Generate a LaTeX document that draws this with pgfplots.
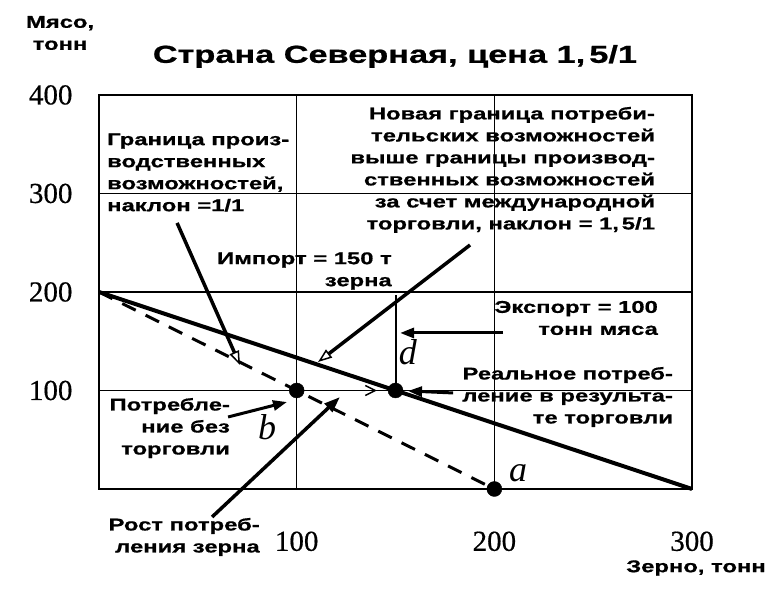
\documentclass[border=0pt]{standalone}
\usepackage{pgfplots}
\pgfplotsset{compat=1.18}
\usepackage{fontspec}
\usetikzlibrary{arrows.meta}
\newfontfamily\annfont[FakeStretch=1.4, BoldFeatures={FakeBold=0.8}]{Liberation Sans}
\newfontfamily\tickfont[FakeBold=0.5]{Liberation Serif}
\newfontfamily\letfont{Liberation Serif}
\tikzset{
  ann/.style={font=\annfont\bfseries\fontsize{17}{22}\selectfont, inner sep=0pt},
  lett/.style={font=\letfont\itshape\fontsize{36}{36}\selectfont, inner sep=0pt},
}
\begin{document}
\begin{tikzpicture}
\begin{axis}[
  width=593pt, height=394pt, scale only axis,
  xmin=0, xmax=300, ymin=0, ymax=400,
  xtick={100,200,300}, ytick={100,200,300,400},
  grid=major, major grid style={line width=1.2pt, black},
  axis line style={line width=2.5pt},
  tick style={draw=none},
  clip=false,
  /pgf/number format/assume math mode=true,
  ticklabel style={font=\tickfont\fontsize{29}{29}\selectfont},
  xticklabel style={yshift=-39pt},
  yticklabel style={xshift=-23pt},
]
% consumption possibility frontier (slope 1.5/1)
\addplot[line width=4pt, black] coordinates {(0,200) (300,0)};
% production possibility frontier (slope 1/1)
\addplot[line width=3pt, black, dash pattern=on 15pt off 11pt] coordinates {(0,200) (200,0)};
% vertical segment d
\addplot[line width=2pt, black] coordinates {(150,100) (150,197)};
% points
\addplot[only marks, mark=*, mark size=7.5pt, black] coordinates {(100,100) (150,100) (200,0)};

% arrows
\draw[line width=3.5pt, -{Triangle[open, length=14pt, width=10pt, line width=1.5pt]}] (axis cs:39.5,270.1) -- (axis cs:71.3,125.9);
\draw[line width=3.5pt, -{Triangle[open, length=14pt, width=10pt, line width=1.5pt]}] (axis cs:187.7,247.7) -- (axis cs:110.8,128.9);
\draw[line width=1.5pt, -{Straight Barb[length=10pt, width=10pt, line width=1.5pt]}] (axis cs:104,100) -- (axis cs:140.6,100);
\draw[line width=3.5pt, -{Triangle[length=16pt, width=11pt]}] (axis cs:57.2,-28.4) -- (axis cs:121.9,93.4);
\draw[line width=3pt, -{Triangle[length=14pt, width=10pt]}] (axis cs:65.3,73.1) -- (axis cs:95.1,88.3);
\draw[line width=3pt, -{Triangle[length=14pt, width=10pt]}] (axis cs:204.4,158.4) -- (axis cs:152.3,158.4);
\draw[line width=3pt, -{Triangle[length=14pt, width=10pt]}] (axis cs:179.1,97.5) -- (axis cs:156.3,99.5);

% texts
\node[font=\annfont\bfseries\fontsize{24.5}{28}\selectfont, inner sep=0pt] at (axis cs:149.7,439.1) {Страна Северная, цена 1,\,5/1};
\node[ann, align=center] at (axis cs:-19.7,462.9) {Мясо,\\тонн};
\node[ann] at (axis cs:302,-80.2) {Зерно, тонн};
\node[ann, anchor=west, align=left] at (axis cs:4.05,321.3) {Граница произ-\\водственных\\возможностей,\\наклон =1/1};
\node[ann, anchor=east, align=right] at (axis cs:281.3,323.9) {Новая граница потреби-\\тельских возможностей\\выше границы производ-\\ственных возможностей\\за счет международной\\торговли, наклон = 1,\,5/1};
\node[ann, anchor=east, align=right] at (axis cs:148.2,221.3) {Импорт = 150 т\\зерна};
\node[ann, anchor=east, align=right] at (axis cs:282.8,173.6) {Экспорт = 100\\тонн мяса};
\node[ann, anchor=east, align=right] at (axis cs:290.4,93.4) {Реальное потреб-\\ление в результа-\\те торговли};
\node[ann, anchor=east, align=right] at (axis cs:66.3,61.9) {Потребле-\\ние без\\торговли};
\node[ann, anchor=east, align=right] at (axis cs:81.4,-48.7) {Рост потреб-\\ления зерна};
\node[lett] at (axis cs:156.3,139.1) {d};
\node[lett] at (axis cs:85.0,62.9) {b};
\node[lett] at (axis cs:212.0,16.2) {a};

\coordinate (bl) at (axis cs:-50.08,-112.7);
\coordinate (tr) at (axis cs:346.0,496.4);
\end{axis}
\pgfresetboundingbox
\path (bl) rectangle (tr);
\end{tikzpicture}
\end{document}
